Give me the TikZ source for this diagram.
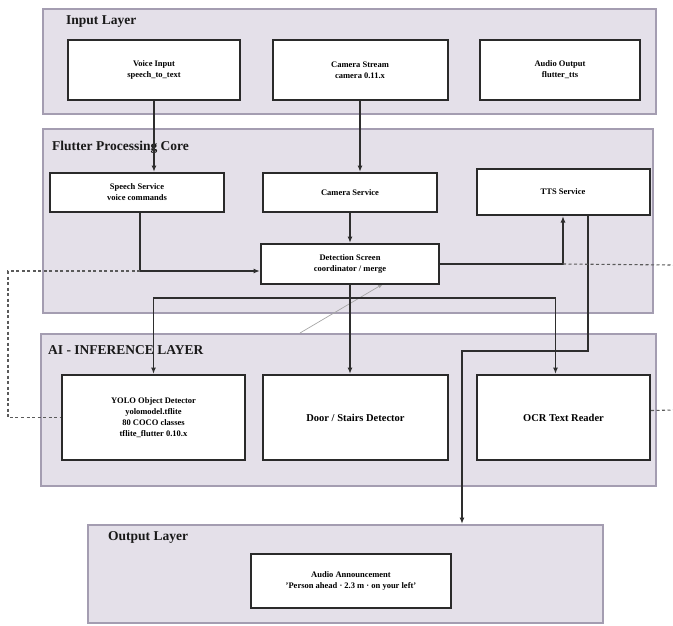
\documentclass[tikz,border=0pt]{standalone}
\usepackage{fontspec}
\setmainfont{Liberation Serif}
\usetikzlibrary{arrows.meta,calc}
\definecolor{panelfill}{HTML}{E4E0E9}
\definecolor{panelborder}{HTML}{A49DB1}
\definecolor{boxborder}{HTML}{2A2A2A}
\definecolor{connc}{HTML}{2E2E2E}
\definecolor{dashc}{HTML}{5A5A5A}
\begin{document}
\begin{tikzpicture}[x=1pt,y=-1pt,
  panel/.style={draw=panelborder, line width=1.6pt, fill=panelfill, inner sep=0pt, anchor=north west},
  ptitle/.style={anchor=west, font=\bfseries\fontsize{13.5}{15}\selectfont, text=black!90, inner sep=0pt},
  box/.style={draw=boxborder, line width=2pt, fill=white, align=center, font=\bfseries\fontsize{8.5}{11}\selectfont, inner sep=1pt},
  bigbox/.style={box, font=\bfseries\fontsize{10.5}{12}\selectfont},
  conn/.style={draw=connc, line width=1.4pt, -{Latex[length=6.5pt,width=5pt]}},
  dashconn/.style={draw=dashc, line width=1.1pt, dash pattern=on 3pt off 2.5pt},
  faint/.style={draw=gray!70, line width=0.7pt, -{Latex[length=5pt,width=4pt]}}
]
\useasboundingbox (0,0) rectangle (673,625);

% panels
\node[panel, minimum width=613pt, minimum height=105pt] (inputL) at (42,8) {};
\node[panel, minimum width=610pt, minimum height=184pt] (flutterL) at (42,128) {};
\node[panel, minimum width=615pt, minimum height=152pt] (aiL) at (40,333) {};
\node[panel, minimum width=515pt, minimum height=98pt] (outL) at (87,524) {};

\node[ptitle] (tInput) at (66,22) {Input Layer};
\node[ptitle] (tFlutter) at (52,147) {Flutter Processing Core};
\node[ptitle] (tAI) at (48,350) {AI - INFERENCE LAYER};
\node[ptitle] (tOut) at (108,537) {Output Layer};

% coordinates used by connectors
\coordinate (s1) at (140,271);
\coordinate (d1) at (8,271);
\coordinate (j) at (350,298);
\coordinate (k) at (462,351);
\coordinate (g0) at (300,333);
\coordinate (re1) at (673,265);
\coordinate (re2) at (673,410);

% gray faint connector (behind)
\coordinate (gd) at (383,284);
\draw[faint] (g0) -- (gd);

% boxes
\node[box, minimum width=172pt, minimum height=60pt] (voice) at (154,70) {Voice Input\\speech\_to\_text};
\node[box, minimum width=175pt, minimum height=60pt] (camstream) at (360,70) {Camera Stream\\camera 0.11.x};
\node[box, minimum width=160pt, minimum height=60pt] (audioout) at (560,70) {Audio Output\\flutter\_tts};

\node[box, minimum width=174pt, minimum height=39pt] (speech) at (137,192.5) {Speech Service\\voice commands};
\node[box, minimum width=174pt, minimum height=39pt] (camsvc) at (350,192.5) {Camera Service};
\node[box, minimum width=173pt, minimum height=46pt] (tts) at (563,192) {TTS Service};
\node[box, minimum width=178pt, minimum height=40pt] (detect) at (350,264) {Detection Screen\\coordinator / merge};

\node[box, minimum width=183pt, minimum height=85pt] (yolo) at (153.5,417.5) {YOLO Object Detector\\yolomodel.tflite\\80 COCO classes\\tflite\_flutter 0.10.x};
\node[bigbox, minimum width=185pt, minimum height=85pt] (door) at (355.5,417.5) {Door / Stairs Detector};
\node[bigbox, minimum width=173pt, minimum height=85pt] (ocr) at (563.5,417.5) {OCR Text Reader};

\node[box, minimum width=200pt, minimum height=54pt] (announce) at (351,581) {Audio Announcement\\'Person ahead · 2.3 m · on your left'};

% solid connectors
\draw[conn] (voice.south) -- (voice.south |- speech.north);
\draw[conn] (camstream.south) -- (camstream.south |- camsvc.north);
\draw[conn] (camsvc.south) -- (camsvc.south |- detect.north);
\draw[conn] (speech.south -| s1) -- (s1) -- (s1 -| detect.west);
\draw[conn] (detect.east) -| (tts.south);
\draw[conn] (detect.south) -- (j) -| (yolo.north);
\draw[conn] (j) -| ([xshift=-8pt]ocr.north);
\draw[conn] (detect.south) -- (detect.south |- door.north);
\draw[conn] ([xshift=25pt]tts.south) |- (k) -- (k |- outL.north);

% dashed connectors
\draw[dashconn] (s1) -- (d1) -- (d1 |- yolo.west) -- (yolo.west);
\draw[dashconn] (tts.south |- detect.east) -- (re1);
\draw[dashconn] ([yshift=7pt]ocr.east) -- (re2);
\end{tikzpicture}
\end{document}
